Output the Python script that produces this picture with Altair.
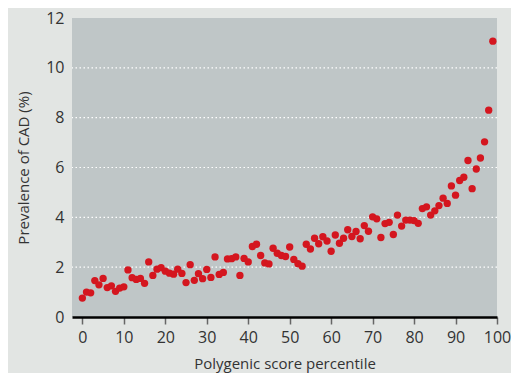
import altair as alt
import pandas as pd

percentile = list(range(100))
prevalence = [
    0.76, 1.00, 0.97, 1.46, 1.29, 1.55, 1.18, 1.25, 1.03, 1.16,
    1.21, 1.89, 1.58, 1.51, 1.55, 1.35, 2.21, 1.67, 1.92, 1.98,
    1.84, 1.76, 1.72, 1.92, 1.75, 1.38, 2.10, 1.47, 1.74, 1.54,
    1.91, 1.59, 2.41, 1.71, 1.79, 2.33, 2.34, 2.41, 1.67, 2.35,
    2.21, 2.83, 2.92, 2.47, 2.17, 2.13, 2.76, 2.56, 2.47, 2.43,
    2.81, 2.31, 2.14, 2.04, 2.92, 2.73, 3.16, 2.94, 3.22, 3.05,
    2.64, 3.29, 2.96, 3.16, 3.50, 3.23, 3.43, 3.14, 3.67, 3.44,
    4.02, 3.94, 3.19, 3.75, 3.80, 3.31, 4.09, 3.65, 3.89, 3.89,
    3.87, 3.76, 4.35, 4.42, 4.09, 4.26, 4.47, 4.77, 4.56, 5.26,
    4.89, 5.48, 5.61, 6.28, 5.15, 5.94, 6.38, 7.03, 8.30, 11.07,
]
x_ticks = list(range(0, 101, 10))
y_ticks = list(range(0, 13, 2))
grid_values = [2, 4, 6, 8, 10]

df = pd.DataFrame({"percentile": percentile, "prevalence": prevalence})
grid_df = pd.DataFrame({"prevalence": grid_values})

FONT = "Open Sans"
TXT = "#333333"
Y_TITLE = "Prevalence of CAD (%)"

xscale = alt.Scale(domain=[-2.5, 100], nice=False, zero=False)
yscale = alt.Scale(domain=[0, 12], nice=False)

y_axis = alt.Axis(
    values=y_ticks,
    grid=False,
    domain=False,
    ticks=False,
    labelFontSize=16,
    labelColor=TXT,
    labelFont=FONT,
    labelPadding=8,
    titleFontSize=15,
    titleFont=FONT,
    titleColor=TXT,
    titleFontWeight="normal",
    titlePadding=14,
    labelFlush=False,
)

grid = alt.Chart(grid_df).mark_rule(
    color="white", strokeWidth=1.2, strokeDash=[1.5, 2.5]
).encode(y=alt.Y("prevalence:Q", scale=yscale, title=Y_TITLE, axis=y_axis))

points = alt.Chart(df).mark_circle(
    size=54, color="#d4161f", opacity=1
).encode(
    x=alt.X(
        "percentile:Q",
        scale=xscale,
        title="Polygenic score percentile",
        axis=alt.Axis(
            values=x_ticks,
            grid=False,
            domainColor="black",
            domainWidth=2.5,
            tickColor="#666666",
            tickSize=7,
            tickWidth=1.5,
            labelFontSize=16,
            labelColor=TXT,
            labelFont=FONT,
            labelPadding=5,
            titleFontSize=15,
            titleFont=FONT,
            titleColor=TXT,
            titleFontWeight="normal",
            titlePadding=11,
            labelFlush=False,
        ),
    ),
    y=alt.Y("prevalence:Q", scale=yscale, title=Y_TITLE, axis=y_axis),
)

chart = alt.layer(grid, points).properties(
    width=425,
    height=299,
    autosize=alt.AutoSizeParams(type="none"),
    padding={"left": 64, "top": 10, "right": 14, "bottom": 56},
    background="#e2e5e3",
).configure_view(fill="#bfc6c7", stroke=None)

chart.save("out.html", embed_options={"renderer": "svg", "actions": False})
